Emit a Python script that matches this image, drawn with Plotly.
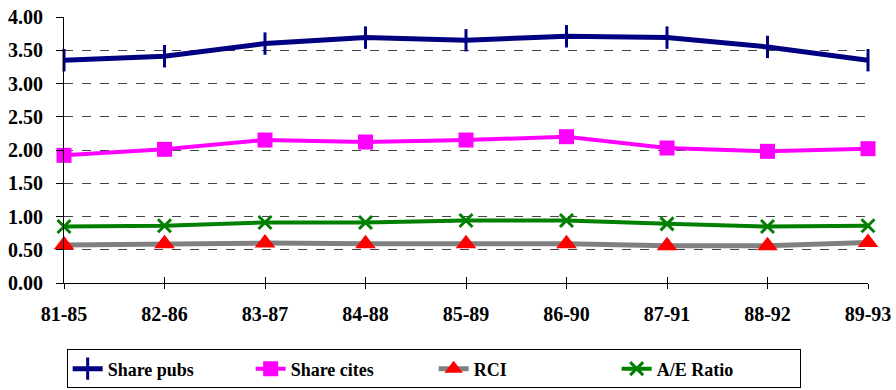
import plotly.graph_objects as go

# Five-year windows
periods = ["81-85", "82-86", "83-87", "84-88", "85-89", "86-90", "87-91", "88-92", "89-93"]

share_pubs = [3.35, 3.41, 3.60, 3.69, 3.65, 3.71, 3.69, 3.55, 3.35]
share_cites = [1.92, 2.01, 2.15, 2.12, 2.15, 2.20, 2.03, 1.98, 2.02]
rci = [0.57, 0.59, 0.60, 0.59, 0.59, 0.59, 0.56, 0.56, 0.61]
ae_ratio = [0.85, 0.86, 0.91, 0.91, 0.94, 0.94, 0.89, 0.85, 0.86]

y_ticks = [0, 0.5, 1.0, 1.5, 2.0, 2.5, 3.0, 3.5, 4.0]

serif = "Liberation Serif, DejaVu Serif, serif"
xpos = list(range(len(periods)))

fig = go.Figure()

fig.add_trace(go.Scatter(
    x=xpos, y=share_pubs, name="Share pubs", mode="lines+markers",
    line=dict(color="#000080", width=5),
    marker=dict(symbol="line-ns", size=16, line=dict(color="#000080", width=3)),
    cliponaxis=False,
))
fig.add_trace(go.Scatter(
    x=xpos, y=share_cites, name="Share cites", mode="lines+markers",
    line=dict(color="#FF00FF", width=4),
    marker=dict(symbol="square", size=15, color="#FF00FF"),
    cliponaxis=False,
))
fig.add_trace(go.Scatter(
    x=xpos, y=rci, name="RCI", mode="lines+markers",
    line=dict(color="#808080", width=5),
    marker=dict(symbol="triangle-up", size=18, color="#FF0000"),
    cliponaxis=False,
))
fig.add_trace(go.Scatter(
    x=xpos, y=ae_ratio, name="A/E Ratio", mode="lines+markers",
    line=dict(color="#008000", width=4),
    marker=dict(symbol="x-thin", size=13, line=dict(color="#008000", width=3)),
    cliponaxis=False,
))

# second x axis only for the inner half of the crossing tick marks
fig.add_trace(go.Scatter(x=[0], y=[0], xaxis="x2", showlegend=False,
                         mode="markers", marker=dict(opacity=0), hoverinfo="skip"))

fig.update_layout(
    width=896, height=390,
    margin=dict(l=64, r=28, t=17, b=107, autoexpand=False),
    paper_bgcolor="white", plot_bgcolor="white",
    font=dict(family=serif, color="black"),
    xaxis=dict(
        range=[0, 8], tickvals=xpos, ticktext=periods,
        showgrid=False, zeroline=False,
        showline=True, linecolor="black", linewidth=1,
        ticks="outside", ticklen=5, tickcolor="black", tickwidth=1,
        tickfont=dict(family=serif, size=20, color="black", weight="bold"),
        ticklabelstandoff=8,
    ),
    xaxis2=dict(
        range=[0, 8], tickvals=xpos, overlaying="x", anchor="y", side="bottom",
        showgrid=False, zeroline=False, showline=False, showticklabels=False,
        ticks="inside", ticklen=6, tickcolor="black", tickwidth=1,
    ),
    yaxis=dict(
        range=[0, 4], tickvals=y_ticks, tickformat=".2f",
        showgrid=True, gridcolor="#444444", gridwidth=1, griddash="dash",
        zeroline=False,
        showline=True, linecolor="black", linewidth=1,
        ticks="outside", ticklen=7, tickcolor="black", tickwidth=1,
        tickfont=dict(family=serif, size=20, color="black", weight="bold"),
        ticklabelstandoff=9,
    ),
    legend=dict(
        orientation="h",
        xref="container", x=0.484, xanchor="center",
        yref="container", y=0.104, yanchor="top",
        bordercolor="black", borderwidth=1, bgcolor="white",
        font=dict(family=serif, size=18, color="black", weight="bold"),
        entrywidth=138, tracegroupgap=0,
    ),
)

fig.write_html("out.html")
